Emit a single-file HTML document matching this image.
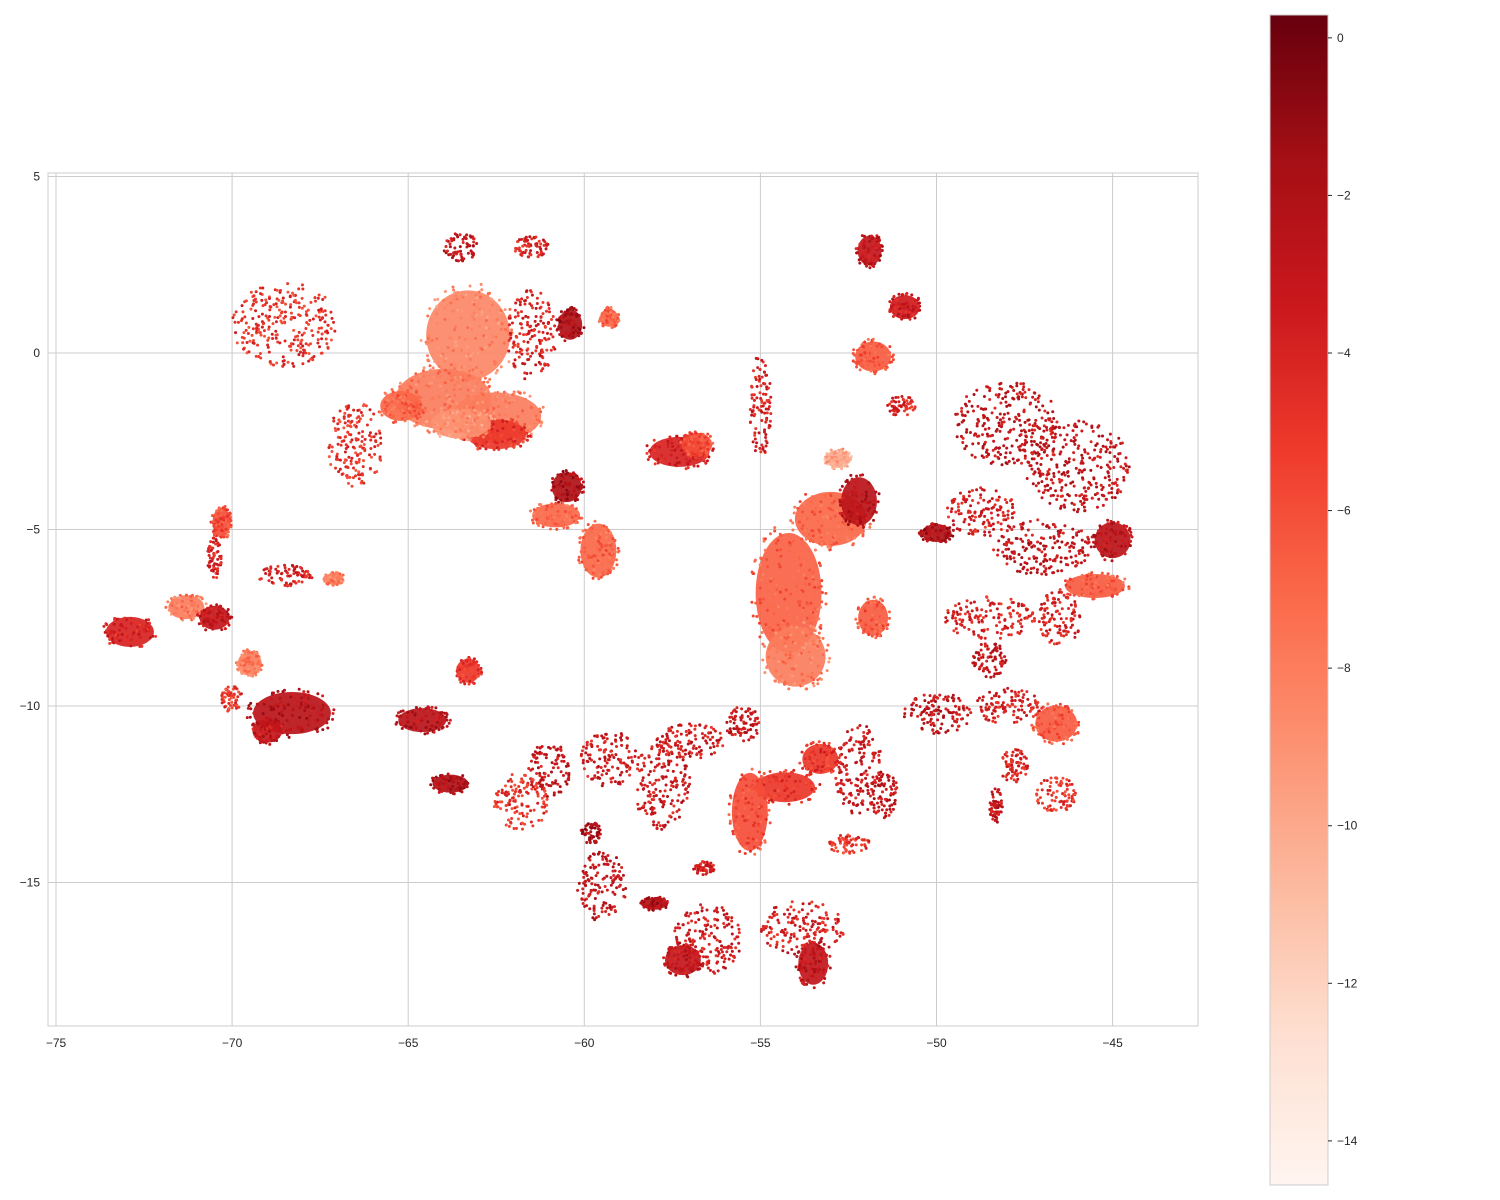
<!DOCTYPE html>
<html><head><meta charset="utf-8"><style>
html,body{margin:0;padding:0;background:#fff;}
svg{display:block;font-family:"Liberation Sans",sans-serif;}
</style></head><body>
<svg id="chart" width="1500" height="1200" xmlns="http://www.w3.org/2000/svg">
<defs>
<linearGradient id="reds" x1="0" y1="1" x2="0" y2="0">
<stop offset="0" stop-color="#fff5f0"/><stop offset="0.125" stop-color="#fee0d2"/><stop offset="0.25" stop-color="#fcbba1"/><stop offset="0.375" stop-color="#fc9272"/><stop offset="0.5" stop-color="#fb6a4a"/><stop offset="0.625" stop-color="#ef3b2c"/><stop offset="0.75" stop-color="#cb181d"/><stop offset="0.875" stop-color="#a50f15"/><stop offset="1" stop-color="#67000d"/>
</linearGradient>
<clipPath id="plotclip"><rect x="48" y="173" width="1150" height="853"/></clipPath>
</defs>
<g id="grid"></g>
<g id="marks" clip-path="url(#plotclip)"></g>
<rect x="48" y="173" width="1150" height="853" fill="none" stroke="#ccc" stroke-width="1"/>
<g id="ticks"></g>
<rect x="1270" y="15" width="58" height="1170" fill="url(#reds)" stroke="#ccc"/>
<g id="cbticks"></g>
</svg>
<script>
const xTicks=[-75,-70,-65,-60,-55,-50,-45];
const yTicks=[5,0,-5,-10,-15];
const cbTicks=[0,-2,-4,-6,-8,-10,-12,-14];
const cbMin=-14.56, cbMax=0.29;
// clusters: lon, lat, rx(deg), ry(deg), value
const lons=[-63.3,-64,-62.5,-61.5,-60.4,-59.3,-63.5,-61.5,-68.5,-66.5,-60.5,-60.8,-59.6,-57.3,-56.8,-54.2,-54.0,-53.0,-52.2,-52.8,-51.8,-51.8,-51.9,-50.9,-55,-51,-48,-46,-48.7,-47,-45,-45.5,-50,-48.5,-46.5,-48.5,-46.6,-48,-50,-47.8,-46.6,-48.3,-52.2,-51.5,-52.5,-54.3,-53.3,-55.3,-53.8,-53.5,-56.5,-57.2,-59.5,-59.8,-58,-56.6,-57.8,-57,-59.3,-61,-61.8,-63.8,-64.6,-63.3,-55.5,-68.3,-69,-69.5,-70,-72.9,-71.3,-70.5,-70.3,-70.5,-68.5,-67.1,-62.5,-65.2,-63.5];
const lats=[0.5,-1.3,-1.8,0.5,0.8,1.0,3.0,3.0,0.8,-2.6,-3.8,-4.6,-5.6,-2.8,-2.6,-6.8,-8.6,-4.7,-4.2,-3.0,-7.5,-0.1,2.9,1.3,-1.5,-1.5,-2.0,-3.2,-4.5,-5.5,-5.3,-6.6,-5.1,-7.5,-7.5,-8.7,-10.5,-10.0,-10.2,-11.7,-12.5,-12.8,-11.8,-12.5,-13.9,-12.3,-11.5,-13.0,-16.3,-17.3,-16.6,-17.2,-15.1,-13.6,-15.6,-14.6,-12.2,-11.0,-11.5,-11.8,-12.7,-12.2,-10.4,-9.0,-10.5,-10.2,-10.7,-8.8,-9.8,-7.9,-7.2,-7.5,-4.8,-5.8,-6.3,-6.4,-2.3,-1.5,-2.0];
const rxs=[1.4,1.6,1.5,0.7,0.4,0.3,0.5,0.5,1.5,0.8,0.5,0.8,0.6,1.0,0.5,1.1,1.0,1.2,0.6,0.4,0.5,0.6,0.4,0.5,0.3,0.4,1.5,1.5,1.0,1.4,0.6,1.0,0.5,1.3,0.6,0.5,0.7,1.0,1.0,0.4,0.6,0.2,0.7,0.4,0.6,1.0,0.6,0.6,1.2,0.5,1.0,0.6,0.7,0.3,0.4,0.3,0.8,1.0,0.8,0.6,0.8,0.6,0.8,0.4,0.5,1.3,0.5,0.4,0.3,0.8,0.6,0.5,0.3,0.2,0.8,0.3,1.0,0.7,1.0];
const rys=[1.5,1.0,0.8,1.3,0.5,0.3,0.4,0.3,1.2,1.2,0.5,0.4,0.9,0.5,0.4,2.0,1.0,0.9,0.8,0.3,0.6,0.5,0.5,0.4,1.5,0.3,1.2,1.3,0.7,0.8,0.6,0.4,0.3,0.6,0.8,0.5,0.6,0.5,0.6,0.5,0.5,0.5,1.3,0.7,0.3,0.5,0.5,1.3,0.8,0.7,1.0,0.5,1.0,0.3,0.2,0.2,1.3,0.5,0.8,0.8,0.8,0.3,0.4,0.4,0.5,0.7,0.4,0.4,0.4,0.5,0.4,0.4,0.5,0.6,0.3,0.2,0.5,0.5,0.5];
const vals=[-8.5,-8,-8,-4,-2,-7,-3,-4,-5,-5,-2,-7,-7,-4,-6,-6.8,-8,-7,-2.5,-10,-6.5,-6.5,-3,-3.5,-4,-4,-3,-3,-4,-3,-2.5,-6.5,-2,-4,-4,-3,-6.5,-4,-3,-4,-5,-3,-3.5,-3,-5,-5,-5,-6,-4,-3,-3.5,-3,-3,-2,-2,-4,-3.5,-3.5,-3.5,-3,-5,-2,-2.5,-5,-3,-2.5,-3,-8,-5,-4,-8,-3,-6,-4,-4,-8,-5,-7,-9];
// density: 1 = filled region, 0 = sparse dots
const dens=[1,1,1,0,1,1,0,0,0,0,1,1,1,1,1,1,1,1,1,1,1,1,1,1,0,0,0,0,0,0,1,1,1,0,0,0,1,0,0,0,0,0,0,0,0,1,1,1,0,1,0,1,0,0,1,0,0,0,0,0,0,1,1,1,0,1,1,1,0,1,1,1,1,0,0,1,1,1,1];

const X0=56.0, XS=35.22, Y0=353, YS=35.3;
const xs=v=>X0+(v+75)*XS;
const ys=v=>Y0-v*YS;
const stops=[[255,245,240],[254,224,210],[252,187,161],[252,146,114],[251,106,74],[239,59,44],[203,24,29],[165,15,21],[103,0,13]];
function cmap(v){let t=(v-cbMin)/(cbMax-cbMin);t=Math.max(0,Math.min(1,t))*8;const i=Math.min(7,Math.floor(t)),f=t-i;const a=stops[i],b=stops[i+1];return `rgb(${a.map((c,k)=>Math.round(c+(b[k]-c)*f)).join(',')})`;}
const NS="http://www.w3.org/2000/svg";
function el(tag,attrs,parent){const e=document.createElementNS(NS,tag);for(const k in attrs)e.setAttribute(k,attrs[k]);parent.appendChild(e);return e;}
const grid=document.getElementById('grid'),ticks=document.getElementById('ticks'),marks=document.getElementById('marks'),cbt=document.getElementById('cbticks');
xTicks.forEach(t=>{const x=xs(t);
 const l=el('line',{x1:x,x2:x,y1:173,y2:1026,stroke:'#ccc'},grid);
 
 
 const tx=el('text',{x:x,y:1047,'text-anchor':'middle','font-size':12,fill:'#262626'},ticks);tx.textContent=String(t).replace('-','\u2212');
 
 });
yTicks.forEach(t=>{const y=ys(t);
 const l=el('line',{x1:48,x2:1198,y1:y,y2:y,stroke:'#ccc'},grid);
 
 
 const tx=el('text',{x:40,y:y+4,'text-anchor':'end','font-size':12,fill:'#262626'},ticks);tx.textContent=String(t).replace('-','\u2212');
 
 });
const cbY=v=>15+(cbMax-v)/(cbMax-cbMin)*1170;
cbTicks.forEach(t=>{const y=cbY(t);
 el('line',{x1:1328,x2:1332,y1:y,y2:y,stroke:'#262626'},cbt);
 const tx=el('text',{x:1337,y:y+4,'font-size':12,fill:'#262626'},cbt);tx.textContent=String(t).replace('-','\u2212');
 
 });
// deterministic texture generator for dot scatter
let seed=12345;function rnd(){seed=(seed*1103515245+12345)%2147483648;return seed/2147483648;}
lons.forEach((lon,i)=>{
 const cx=xs(lon),cy=ys(lats[i]),rx=rxs[i]*XS,ry=rys[i]*YS,col=cmap(vals[i]);
 if(dens[i]){const e=el('ellipse',{cx:cx,cy:cy,rx:rx*0.85,ry:ry*0.85,fill:col,opacity:0.92},marks);
  
  }
 const n=Math.round(dens[i]?(60+rx*ry*0.05):(45+rx*ry*0.1));
 for(let k=0;k<n;k++){const a=rnd()*6.283,r=Math.sqrt(rnd());
  const dv=vals[i]+(rnd()-0.5)*3;
  const c=el('circle',{cx:cx+Math.cos(a)*r*rx,cy:cy+Math.sin(a)*r*ry,r:1.5,fill:cmap(dv)},marks);
  
  }
});
</script>
</body></html>
